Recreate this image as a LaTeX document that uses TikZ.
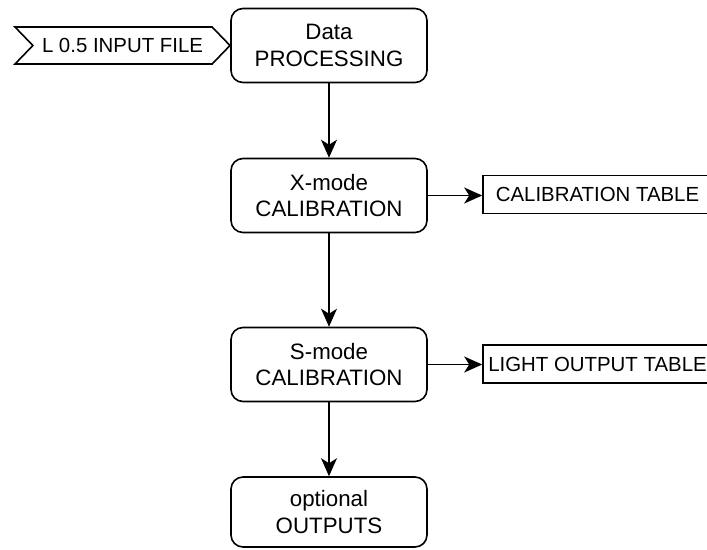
\documentclass[tikz,border=0pt]{standalone}
\usepackage{fontspec}
\setmainfont{Liberation Sans}
\usetikzlibrary{arrows.meta,shapes.symbols}
\begin{document}
\begin{tikzpicture}[x=1pt,y=1pt,
  every node/.style={align=center, inner sep=0pt},
  procbox/.style={draw, line width=1.6pt, rounded corners=12pt, minimum width=196pt, minimum height=74pt, font=\fontsize{22.3}{26.5}\selectfont},
  tablebox/.style={draw, line width=1.6pt, minimum width=229pt, minimum height=38pt, font=\fontsize{20.4}{25}\selectfont},
  inbox/.style={draw, line width=1.6pt, signal, signal to=east, signal from=west, signal pointer angle=92, minimum width=215pt, minimum height=37pt, font=\fontsize{20.4}{25}\selectfont},
  flow/.style={line width=1.6pt, -{Stealth[length=18pt,width=16pt,inset=5pt]}}
]
\useasboundingbox (0,0) rectangle (707,-549);
\clip (0,0) rectangle (707,-549);
\node[procbox] (dp) at (329,-45.5) {Data\\PROCESSING};
\node[procbox] (xm) at (329,-195.5) {X-mode\\CALIBRATION};
\node[procbox] (sm) at (329,-364.5) {S-mode\\CALIBRATION};
\node[procbox, minimum height=70pt] (op) at (329,-512) {optional\\OUTPUTS};
\node[inbox] (in) at (122.5,-45.5) {L 0.5 INPUT FILE};
\node[tablebox] (ct) at (597.5,-194.5) {CALIBRATION TABLE};
\node[tablebox] (lt) at (597.5,-364) {LIGHT OUTPUT TABLE};
\draw[flow] (dp) -- (xm);
\draw[flow] (xm) -- (sm);
\draw[flow] (sm) -- (op);
\draw[flow] (xm.east) -- (xm.east -| ct.west);
\draw[flow] (sm.east) -- (sm.east -| lt.west);
\end{tikzpicture}
\end{document}
